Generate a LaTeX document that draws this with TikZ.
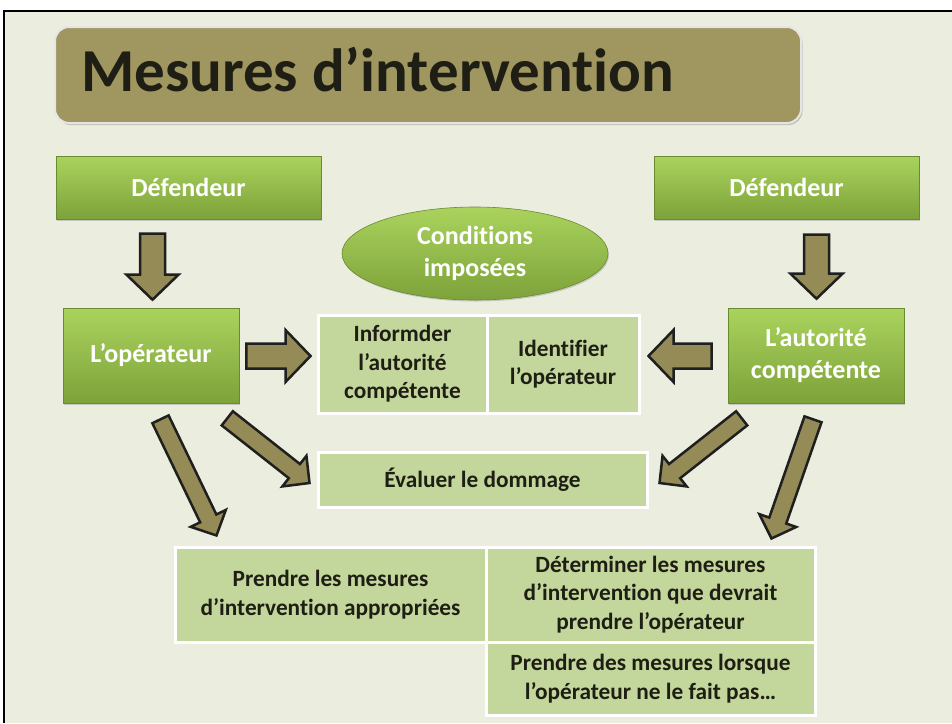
\documentclass[tikz,border=0pt]{standalone}
\usepackage{fontspec}
\setmainfont{Carlito}[Ligatures=NoCommon]
\usetikzlibrary{calc,shapes.geometric,shadows}
\definecolor{bg}{HTML}{EBEEDF}
\definecolor{cell}{HTML}{C3D69B}
\definecolor{arr}{HTML}{948B56}
\definecolor{titlef}{HTML}{A09660}
\definecolor{gtop}{HTML}{AAD35D}
\definecolor{gbot}{HTML}{7DA23A}
\definecolor{txt}{HTML}{1E1E14}
\tikzset{
 greenbox/.style={rectangle, top color=gtop, bottom color=gbot, draw=gbot!85!black, line width=0.6pt, text=white,
   font=\bfseries\fontsize{26}{32}\selectfont, align=center, inner sep=0pt,
   drop shadow={shadow xshift=1pt, shadow yshift=-1.5pt, opacity=0.35}},
 greenoval/.style={greenbox, ellipse},
 cellbox/.style={rectangle, fill=cell, draw=white, line width=3pt, text=txt,
   font=\bfseries\fontsize{23.3}{28.5}\selectfont, align=center, inner sep=0pt},
 blockarrowstyle/.style={fill=arr, draw=black!88, line width=2.5pt, line join=miter},
}
% #1 tail, #2 tip, #3 shaft half width, #4 head half width, #5 head length
\newcommand\blockarr[5]{%
 \draw[blockarrowstyle] let \p1=(#1), \p2=(#2),
   \n1={atan2(\y2-\y1,\x2-\x1)}, \n2={veclen(\x2-\x1,\y2-\y1)} in
   ($(\p1)+(\n1+90:#3 pt)$)
   -- ($(\p1)+(\n1:{(\n2-#5)*1pt})+(\n1+90:#3 pt)$)
   -- ($(\p1)+(\n1:{(\n2-#5)*1pt})+(\n1+90:#4 pt)$)
   -- (\p2)
   -- ($(\p1)+(\n1:{(\n2-#5)*1pt})+(\n1-90:#4 pt)$)
   -- ($(\p1)+(\n1:{(\n2-#5)*1pt})+(\n1-90:#3 pt)$)
   -- ($(\p1)+(\n1-90:#3 pt)$) -- cycle;}
\begin{document}
\begin{tikzpicture}[x=1pt,y=-1pt]
\useasboundingbox (0,0) rectangle (952,723);
\fill[white] (0,0) rectangle (952,723);
\fill[bg] (4,11) rectangle (952,723);
\draw[black, line width=2pt] (4,723) -- (4,11) -- (952,11);

% title
\node[draw=white!80!gray, line width=2pt, fill=titlef, rounded corners=14pt, minimum width=746pt, minimum height=96pt,
  inner sep=0pt, drop shadow={shadow xshift=1.5pt, shadow yshift=-2pt, opacity=0.4}] (titlebox) at (428,75) {};
\node[anchor=base west, inner sep=0pt, text=txt, font=\bfseries\fontsize{61}{70}\selectfont] (title) at (81,91) {Mesures d’intervention};

% green boxes
\node[greenbox, minimum width=265pt, minimum height=63pt] (def1) at (188.5,187.5) {Défendeur};
\node[greenbox, minimum width=265pt, minimum height=63pt] (def2) at (786.5,187.5) {Défendeur};
\node[greenbox, minimum width=176pt, minimum height=95pt] (opL) at (151,355.5) {L’opérateur};
\node[greenbox, minimum width=176pt, minimum height=95pt] (aut) at (816,355.5) {L’autorité\\compétente};
\node[greenoval, minimum width=266pt, minimum height=93pt] (cond) at (475,253.5) {Conditions\\imposées};

% tables
\node[cellbox, minimum width=169pt, minimum height=98pt] (cInf) at (402.5,364) {Informder\\l’autorité\\compétente};
\node[cellbox, minimum width=152pt, minimum height=98pt] (cId) at (563,364) {Identifier\\l’opérateur};
\node[cellbox, minimum width=329pt, minimum height=55pt] (eval) at (482.5,479.5) {Évaluer le dommage};
\node[cellbox, minimum width=311pt, minimum height=95pt] (cPr) at (330.5,594.5) {Prendre les mesures\\d’intervention appropriées};
\node[cellbox, minimum width=329pt, minimum height=95pt] (cDet) at (650.5,594.5) {Déterminer les mesures\\d’intervention que devrait\\prendre l’opérateur};
\node[cellbox, minimum width=329pt, minimum height=73pt] (cLor) at (650.5,678.5) {Prendre des mesures lorsque\\l’opérateur ne le fait pas…};

% arrows
\blockarr{$(opL.north)+(1.5,-74)$}{$(opL.north)+(1.5,-8)$}{12.5}{26}{25}
\blockarr{$(aut.north)+(0.5,-73)$}{$(aut.north)+(0.5,-9)$}{12.5}{26}{25}
\blockarr{$(opL.east)+(7,0.5)$}{$(cInf.west |- opL.east)+(-6,0.5)$}{12.5}{26}{25}
\blockarr{$(aut.west)+(-16,0.5)$}{$(cId.east |- aut.west)+(8,0.5)$}{12.5}{26}{25}
\blockarr{$(opL.south east)+(-12,15)$}{$(eval.west)+(-7,3.5)$}{9}{19.5}{19}
\blockarr{$(opL.south)+(9.5,16)$}{$(cPr.north west)+(43,-10)$}{9}{19.5}{19}
\blockarr{$(aut.south west)+(14,15)$}{$(eval.east)+(11,3.5)$}{9}{19.5}{19}
\blockarr{$(aut.south)+(-3,16)$}{$(cDet.north east)+(-45,-7)$}{9}{19.5}{19}
\end{tikzpicture}
\end{document}
